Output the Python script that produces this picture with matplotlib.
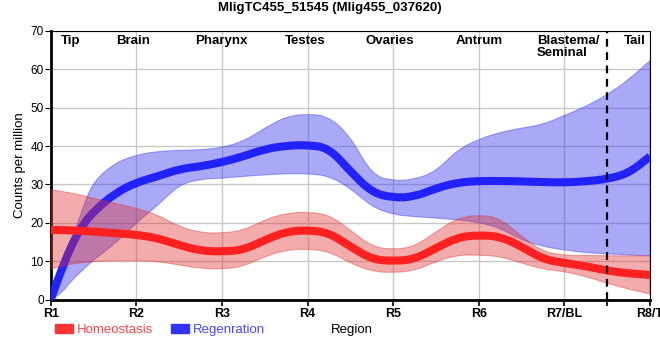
import matplotlib
matplotlib.use("Agg")
import matplotlib.pyplot as plt
from matplotlib.patches import Patch, PathPatch
from matplotlib.path import Path

# region ticks and the labels along the top
regions = ["R1", "R2", "R3", "R4", "R5", "R6", "R7/BL", "R8/T"]
tissues = ["Tip", "Brain", "Pharynx", "Testes", "Ovaries", "Antrum", "Blastema/\nSeminal", "Tail"]
tissue_pos = [0.23, 0.96, 1.99, 2.97, 3.96, 5.01, 5.68, 6.82]
tail_split = 6.5

# sample positions along the body axis (in region units)
xs = [0, 0.125, 0.25, 0.375, 0.5, 0.75, 1, 1.25, 1.5, 1.75, 2, 2.25, 2.5, 2.75, 3,
      3.25, 3.5, 3.75, 4, 4.25, 4.5, 4.75, 5, 5.25, 5.5, 5.75, 6, 6.25, 6.5, 6.75, 7]

# Homeostasis (red): mean and band
homeo_mean = [18.1, 18.1, 18.0, 17.9, 17.7, 17.3, 16.9, 16.0, 14.2, 12.7, 12.5, 12.9, 15.5, 17.7, 18.1,
              17.4, 13.8, 10.5, 10.0, 10.5, 13.4, 16.2, 16.8, 16.4, 13.8, 10.5, 9.5, 8.7, 7.5, 6.8, 6.4]
homeo_hi = [28.6, 28.2, 27.7, 27.1, 26.4, 25.1, 23.8, 22.1, 19.0, 17.4, 17.3, 18.0, 20.8, 22.5, 22.8,
            22.1, 18.1, 13.8, 13.0, 13.8, 17.7, 21.2, 22.1, 21.2, 16.4, 12.5, 11.5, 11.5, 11.4, 11.4, 11.4]
homeo_lo = [7.9, 8.7, 9.3, 9.6, 9.9, 10.1, 10.1, 9.9, 9.0, 8.1, 7.9, 8.6, 11.2, 12.9, 13.2,
            12.5, 9.5, 7.3, 7.0, 7.5, 9.9, 11.6, 11.6, 11.2, 9.5, 7.9, 7.3, 6.0, 4.2, 2.7, 1.4]

# Regeneration (blue): mean and band
regen_mean = [0, 7.7, 14.5, 19.5, 22.9, 27.7, 30.5, 32.1, 34.0, 34.7, 35.8, 37.3, 39.2, 40.1, 40.3,
              39.5, 33.4, 27.9, 26.5, 26.8, 29.0, 30.5, 30.9, 30.9, 30.8, 30.6, 30.5, 30.8, 31.4, 32.9, 37.3]
regen_hi = [0, 6.5, 15.5, 24.0, 30.8, 35.6, 37.7, 38.6, 38.9, 39.0, 39.6, 41.2, 44.7, 47.7, 48.4,
            47.7, 42.5, 32.5, 30.9, 31.3, 33.4, 39.0, 41.8, 43.6, 44.7, 45.6, 48.0, 50.3, 53.4, 57.3, 62.3]
regen_lo = [0, 1.6, 5.1, 7.7, 10.3, 14.5, 20.0, 24.5, 29.9, 31.4, 31.6, 32.1, 32.5, 32.8, 32.8,
            32.2, 29.0, 24.2, 22.1, 21.6, 21.2, 20.8, 20.1, 18.6, 15.5, 13.8, 12.9, 12.2, 11.9, 11.6, 11.4]


def smooth(px, py):
    # quadratic bezier through segment midpoints, data points as control points
    pts = list(zip(px, py))
    verts = [pts[0], ((pts[0][0] + pts[1][0]) / 2, (pts[0][1] + pts[1][1]) / 2)]
    codes = [Path.MOVETO, Path.LINETO]
    for i in range(1, len(pts) - 1):
        mid = ((pts[i][0] + pts[i + 1][0]) / 2, (pts[i][1] + pts[i + 1][1]) / 2)
        verts += [pts[i], mid]
        codes += [Path.CURVE3, Path.CURVE3]
    verts.append(pts[-1])
    codes.append(Path.LINETO)
    return verts, codes


def draw_line(ax, px, py, color, z):
    v, c = smooth(px, py)
    ax.add_patch(PathPatch(Path(v, c), fill=False, edgecolor=color, linewidth=5.8,
                           capstyle="butt", joinstyle="round", zorder=z))


def draw_band(ax, px, lo, hi, color, alpha, z):
    v1, c1 = smooth(px, hi)
    v2, c2 = smooth(px[::-1], lo[::-1])
    c2[0] = Path.LINETO
    v = v1 + v2 + [v1[0]]
    c = c1 + c2 + [Path.CLOSEPOLY]
    ax.add_patch(PathPatch(Path(v, c), facecolor=color, edgecolor=color, alpha=alpha,
                           linewidth=0.8, zorder=z))


narrow = ["Liberation Sans Narrow", "Liberation Sans", "DejaVu Sans"]
plt.rcParams["font.family"] = ["Liberation Sans", "DejaVu Sans"]

fig, ax = plt.subplots(figsize=(6.6, 3.6), dpi=100)
fig.subplots_adjust(left=0.0768, right=0.985, top=0.914, bottom=0.168)

# bands and lines
draw_band(ax, xs, regen_lo, regen_hi, "#3434f0", 0.42, 2)
draw_line(ax, xs, regen_mean, "#2222ff", 3)
draw_band(ax, xs, homeo_lo, homeo_hi, "#e03030", 0.40, 4)
draw_line(ax, xs, homeo_mean, "#ff2020", 5)

ax.axvline(tail_split, color="black", linewidth=1.6, linestyle=(0, (3.5, 2.5)), zorder=6)

ax.set_xlim(0, 7)
ax.set_ylim(0, 70)
ax.set_xticks(range(len(regions)))
ax.set_xticklabels(regions, fontweight="bold", fontsize=9, family=narrow)
ax.set_xticks([tail_split], minor=True)
ax.set_yticks(range(0, 71, 10))
ax.tick_params(axis="y", labelsize=8.5, length=4, pad=1)
ax.tick_params(axis="x", which="both", length=4, width=1.2, pad=2)
ax.grid(True, color="#c8c8c8", linewidth=1, zorder=0)
ax.set_axisbelow(True)

for side in ["left", "bottom"]:
    ax.spines[side].set_linewidth(2)
for side in ["top", "right"]:
    ax.spines[side].set_linewidth(0.8)

ax.set_ylabel("Counts per million", fontsize=9.5, labelpad=3)

# tissue names along the top
for name, pos in zip(tissues, tissue_pos):
    ha = "left" if "\n" in name else "center"
    ax.text(pos, 69, name, ha=ha, va="top", fontsize=9.5, fontweight="bold",
            family=narrow, linespacing=1.0, zorder=7)

fig.suptitle("MligTC455_51545 (Mlig455_037620)", fontsize=9.5, fontweight="bold",
             family=narrow, y=0.995)

# legend and axis title below the plot
handles = [Patch(color="#ff3333", label="Homeostasis"),
           Patch(color="#3333ff", label="Regenration")]
leg = fig.legend(handles=handles, loc="center left", bbox_to_anchor=(0.066, 0.083),
                 ncol=2, frameon=False, handlelength=1.3, handleheight=0.6,
                 handletextpad=0.3, columnspacing=1.4, prop={"family": narrow, "size": 9.5})
for txt, col in zip(leg.get_texts(), ["#ff4444", "#4444ff"]):
    txt.set_color(col)
fig.text(0.533, 0.083, "Region", ha="center", va="center", fontsize=9.5, family=narrow)

fig.savefig("out.png", dpi=100)
